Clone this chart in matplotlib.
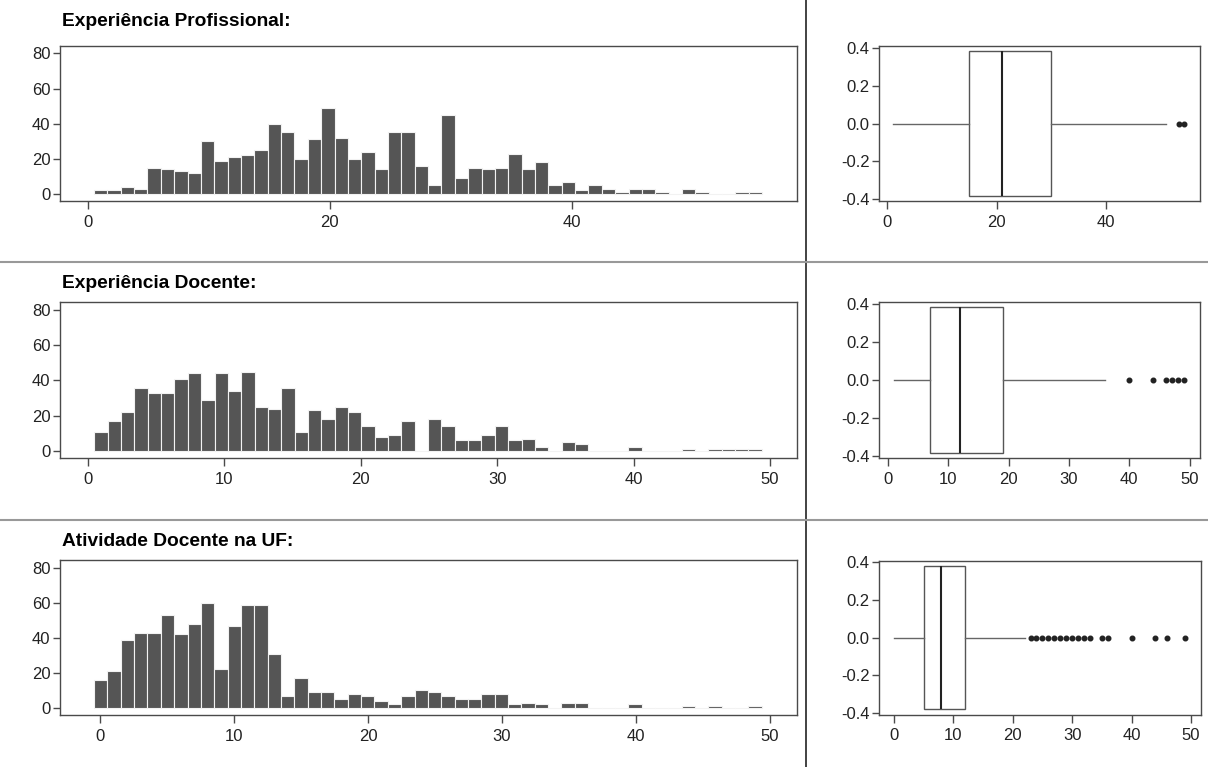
import numpy as np
import matplotlib
matplotlib.use("Agg")
import matplotlib.pyplot as plt
from matplotlib.lines import Line2D

plt.rcParams['font.family'] = ['Liberation Sans', 'DejaVu Sans']

# ---------------- data ----------------
titles = ["Experiência Profissional:", "Experiência Docente:", "Atividade Docente na UF:"]

# histogram bins (start, end, number of bins) and counts
bin_range_prof = (0.52, 55.7)
counts_prof = [2, 2, 4, 3, 15, 14, 13, 12, 30, 19,
               21, 22, 25, 40, 35, 20, 31, 49, 32, 20,
               24, 14, 35, 35, 16, 5, 45, 9, 15, 14,
               15, 23, 14, 18, 5, 7, 2, 5, 3, 1,
               3, 3, 1, 0, 3, 1, 0, 0, 1, 1]

bin_range_doc = (0.49, 49.4)
counts_doc = [11, 17, 22, 36, 33, 33, 41, 44, 29, 44,
              34, 45, 25, 24, 36, 11, 23, 18, 25, 22,
              14, 8, 9, 17, 0, 18, 14, 6, 6, 9,
              14, 6, 7, 2, 0, 5, 4, 0, 0, 0,
              2, 0, 0, 0, 1, 0, 1, 1, 1, 1]

bin_range_uf = (-0.47, 49.4)
counts_uf = [16, 21, 39, 43, 43, 53, 42, 48, 60, 22,
             47, 59, 59, 31, 7, 17, 9, 9, 5, 8,
             7, 4, 2, 7, 10, 9, 7, 5, 5, 8,
             8, 2, 3, 2, 0, 3, 3, 0, 0, 0,
             2, 0, 0, 0, 1, 0, 1, 0, 0, 1]

# boxplot statistics: (whisker low, Q1, median, Q3, whisker high)
box_prof = (1, 15, 21, 30, 51)
out_prof = [53.5, 54.4]
box_doc = (1, 7, 12, 19, 36)
out_doc = [40, 44, 46, 47, 48, 49]
box_uf = (0, 5, 8, 12, 22)
out_uf = [23, 24, 25, 26, 27, 28, 29, 30, 31, 32, 33, 35, 36, 40, 44, 46, 49]

hist_xticks = [[0, 20, 40], [0, 10, 20, 30, 40, 50], [0, 10, 20, 30, 40, 50]]
box_xticks = [[0, 20, 40], [0, 10, 20, 30, 40, 50], [0, 10, 20, 30, 40, 50]]
hist_yticks = [0, 20, 40, 60, 80]
box_yticks = [-0.4, -0.2, 0.0, 0.2, 0.4]

# ---------------- layout ----------------
W, H = 1208, 767
fig = plt.figure(figsize=(W / 100, H / 100), dpi=100)
fig.patch.set_facecolor('white')


def rect(x0, y0, x1, y1):
    return [x0 / W, 1 - y1 / H, (x1 - x0) / W, (y1 - y0) / H]


hist_rects = [rect(60, 45.7, 797.3, 201.3), rect(60, 302.3, 797.3, 458.3), rect(60, 560, 797.3, 715.3)]
box_rects = [rect(879.3, 45.7, 1200, 201.3), rect(879.3, 301.7, 1200, 458.3), rect(879.3, 560.5, 1201, 714.5)]
hist_xlims = [(-2.29, 58.6), (-2.03, 52.0), (-3.01, 52.05)]
box_xlims = [(-1.5, 57.3), (-1.4, 51.7), (-2.47, 51.7)]
title_y = [22, 283, 541]

hist_data = [(bin_range_prof, counts_prof), (bin_range_doc, counts_doc), (bin_range_uf, counts_uf)]
box_data = [(box_prof, out_prof), (box_doc, out_doc), (box_uf, out_uf)]

spine_col = '#4a4a4a'
text_col = '#222222'
bar_col = '#555555'


def style_axes(ax):
    for s in ax.spines.values():
        s.set_color(spine_col)
        s.set_linewidth(1.0)
    ax.tick_params(axis='both', colors=spine_col, labelcolor=text_col, labelsize=12,
                   length=5, width=1.0, direction='out', pad=2)


for i in range(3):
    # histogram
    ax = fig.add_axes(hist_rects[i])
    (lo, hi), counts = hist_data[i]
    edges = np.linspace(lo, hi, len(counts) + 1)
    ax.bar(edges[:-1], counts, width=np.diff(edges), align='edge',
           color=bar_col, edgecolor='#f2f2f2', linewidth=0.8)
    ax.set_xlim(*hist_xlims[i])
    ax.set_ylim(-4.2, 84.4)
    ax.set_xticks(hist_xticks[i])
    ax.set_yticks(hist_yticks)
    style_axes(ax)
    ax.tick_params(axis='x', length=6, pad=4)

    # boxplot
    bx = fig.add_axes(box_rects[i])
    (wl, q1, med, q3, wh), fl = box_data[i]
    stats = [dict(whislo=wl, q1=q1, med=med, q3=q3, whishi=wh, fliers=fl)]
    bx.bxp(stats, positions=[0], widths=0.76, orientation='horizontal',
           showcaps=False, patch_artist=True,
           boxprops=dict(facecolor='white', edgecolor='#555555', linewidth=1.0),
           medianprops=dict(color='#222222', linewidth=1.5),
           whiskerprops=dict(color='#666666', linewidth=1.0),
           flierprops=dict(marker='o', markersize=3.3, markerfacecolor='#222222',
                           markeredgecolor='#222222', linestyle='none'))
    bx.set_xlim(*box_xlims[i])
    bx.set_ylim(-0.41, 0.41)
    bx.set_xticks(box_xticks[i])
    bx.set_xticklabels([str(t) for t in box_xticks[i]])
    bx.set_yticks(box_yticks)
    bx.set_yticklabels([f"{t:.1f}" for t in box_yticks])
    style_axes(bx)
    bx.tick_params(axis='x', length=6, pad=4)

    fig.text(62 / W, 1 - title_y[i] / H, titles[i], fontsize=13.8, fontweight='bold',
             ha='left', va='center', color='black')

# separators
fig.add_artist(Line2D([806 / W, 806 / W], [0, 1], transform=fig.transFigure,
                      color='#222222', linewidth=1.2))
for yy in (262, 520):
    fig.add_artist(Line2D([0, 1], [1 - yy / H, 1 - yy / H], transform=fig.transFigure,
                          color='#999999', linewidth=1.5))

fig.savefig('out.png', dpi=100, facecolor='white')
